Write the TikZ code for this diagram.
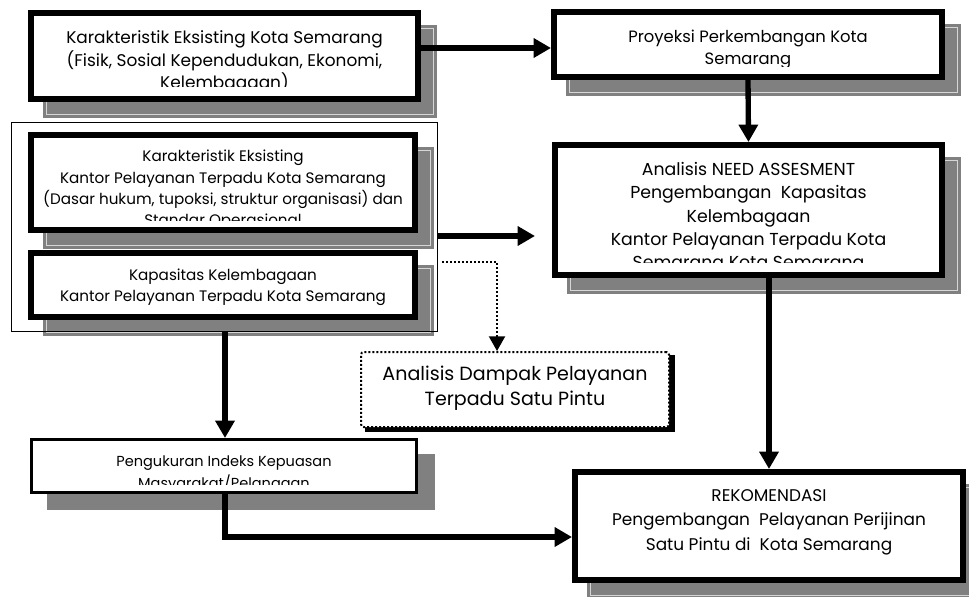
\documentclass[tikz,border=0pt]{standalone}
\usepackage{fontspec}
\setmainfont{Poppins}
\usetikzlibrary{arrows.meta,backgrounds,calc}
\definecolor{shgray}{HTML}{808080}
\definecolor{shline}{HTML}{D6D6D6}
\begin{document}
\begin{tikzpicture}[x=0.75pt,y=-0.75pt,
  box/.style={draw=black,line width=4.5pt,fill=white,inner sep=0pt},
  sz/.style 2 args={minimum width=#1*0.75pt,minimum height=#2*0.75pt},
  txt/.style={inner sep=0pt,align=center,text=black},
  fs/.style 2 args={font=\fontsize{#1}{#2}\selectfont},
  arr/.style={line width=4pt,-{Triangle[length=13pt,width=14pt]}},
  dotarr/.style={line width=1.5pt,dash pattern=on 1.5pt off 1.5pt,-{Triangle[length=11pt,width=12pt]}},
]
\useasboundingbox (0,0) rectangle (969,596);
\coordinate (y48) at (0,48);
\coordinate (gEnd) at (535,236);
\coordinate (dA) at (442,262);
\coordinate (dX) at (497,0);
\coordinate (bx) at (225,0);
\coordinate (y537) at (0,537);

% group frame
\node[draw=black,line width=1.1pt,sz={425.5}{208.5}] (G) at (224.5,227) {};

% boxes
\node[box,sz={387}{86}] (K1) at (224.5,56) {};
\node[box,sz={388}{65}] (P) at (748,44.5) {};
\node[box,sz={387}{130}] (N) at (748.5,210) {};
\node[box,sz={384}{95}] (A) at (223,182.5) {};
\node[box,sz={384}{64}] (B) at (223,285) {};
\node[box,line width=2.25pt,sz={385}{53}] (M) at (224,466) {};
\node[draw=black,fill=white,line width=1.5pt,dash pattern=on 1.5pt off 1.5pt,rounded corners=2pt,sz={308}{75}] (D) at (515,389.5) {};
\node[box,sz={388}{108}] (R) at (769,526) {};

% shadows
\begin{scope}[on background layer]
\clip (0,0) rectangle (969,596);
\foreach \n in {K1,P,N,A,B,R}{
  \fill[shgray] ([shift={(15,15)}]\n.north west) rectangle ([shift={(16,16)}]\n.south east);
  \draw[shline,line width=0.8pt] ([shift={(18.5,18.5)}]\n.north west) rectangle ([shift={(12.5,12.5)}]\n.south east);
}
\fill[shgray] ([shift={(17,16)}]M.north west) rectangle ([shift={(17,16)}]M.south east);
\fill[black] ([shift={(5,4)}]D.north west) rectangle ([shift={(5,4)}]D.south east);
\end{scope}

% texts
\begin{scope}
\clip (34,16) rectangle (415,86);
\node[txt,fs={12.7}{17}] (K1t) at (224.5,62) {Karakteristik Eksisting Kota Semarang\\(Fisik, Sosial Kependudukan, Ekonomi,\\Kelembagaan)};
\end{scope}
\begin{scope}
\clip (557,15) rectangle (939,66);
\node[txt,fs={12.3}{16.5}] (Pt) at (748,49) {Proyeksi Perkembangan Kota\\Semarang};
\end{scope}
\begin{scope}
\clip (558,148) rectangle (939,262);
\node[txt,fs={13}{17.5}] (Nt) at (748.5,218) {Analisis NEED ASSESMENT\\Pengembangan\ \ Kapasitas\\Kelembagaan\\Kantor Pelayanan Terpadu Kota\\Semarang Kota Semarang};
\end{scope}
\begin{scope}
\clip (34,138) rectangle (412,220);
\node[txt,fs={11.4}{16}] (At) at (223,190) {Karakteristik Eksisting\\Kantor Pelayanan Terpadu Kota Semarang\\(Dasar hukum, tupoksi, struktur organisasi) dan\\Standar Operasional};
\end{scope}
\node[txt,fs={11.4}{16}] (Bt) at (223,287.5) {Kapasitas Kelembagaan\\Kantor Pelayanan Terpadu Kota Semarang};
\begin{scope}
\clip (33,441) rectangle (415,484);
\node[txt,fs={10.9}{16.5}] (Mt) at (224,474) {Pengukuran Indeks Kepuasan\\Masyarakat/Pelanggan};
\end{scope}
\node[txt,fs={14.3}{19}] (Dt) at (515,388.5) {Analisis Dampak Pelayanan\\Terpadu Satu Pintu};
\node[txt,fs={12.7}{18.5}] (Rt) at (769,522) {REKOMENDASI\\Pengembangan\ \ Pelayanan Perijinan\\Satu Pintu di\ \ Kota Semarang};

% connectors
\draw[arr] (K1.east |- y48) -- (P.west |- y48);
\draw[arr] (P.south) -- (N.north);
\draw[arr] (G.east |- gEnd) -- (gEnd);
\draw[dotarr] (dA) -| (D.north -| dX);
\draw[arr] (G.south -| bx) -- (M.north -| bx);
\draw[arr] (M.south -| bx) |- (R.west |- y537);
\draw[arr] (N.south -| R.north) -- (R.north);
\end{tikzpicture}
\end{document}
